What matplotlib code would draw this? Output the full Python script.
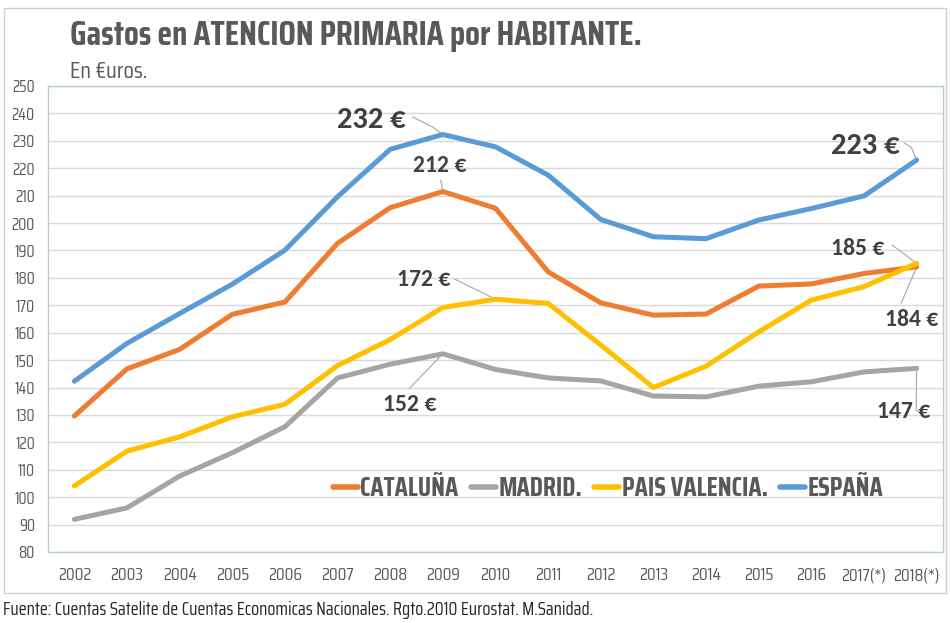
import matplotlib
matplotlib.use("Agg")
import matplotlib.pyplot as plt
from matplotlib.patches import Rectangle
from matplotlib.lines import Line2D

years = ["2002", "2003", "2004", "2005", "2006", "2007", "2008", "2009", "2010",
         "2011", "2012", "2013", "2014", "2015", "2016", "2017(*)", "2018(*)"]
cataluna = [129.6, 146.8, 153.9, 166.7, 171.2, 192.6, 205.6, 211.5, 205.4,
            182.2, 170.9, 166.4, 166.8, 177.0, 177.8, 181.6, 184.0]
madrid = [91.9, 96.1, 107.7, 116.2, 125.7, 143.5, 148.5, 152.3, 146.6,
          143.5, 142.4, 136.9, 136.6, 140.5, 142.1, 145.7, 147.0]
pais_valencia = [104.1, 116.8, 122.0, 129.3, 133.9, 148.0, 157.5, 169.2, 172.2,
                 170.7, 155.5, 140.0, 147.8, 160.3, 171.9, 176.8, 185.3]
espana = [142.3, 156.1, 167.0, 177.7, 190.1, 209.6, 226.9, 232.3, 227.8,
          217.5, 201.3, 195.0, 194.3, 201.1, 205.3, 209.9, 223.0]
series_names = ["CATALUÑA", "MADRID.", "PAIS VALENCIA.", "ESPAÑA"]
series_colors = ["#ED7D31", "#A5A5A5", "#FFC000", "#5B9BD5"]
yticks = list(range(80, 251, 10))

COND = ["Saira Condensed", "Saira ExtraCondensed", "DejaVu Sans"]
LBL = ["Carlito", "DejaVu Sans"]
TXT = "#595959"

fig = plt.figure(figsize=(9.5, 6.23), dpi=100)
fig.patch.set_facecolor("white")

# chart area border
fig.add_artist(Rectangle((4 / 950, 1 - 593 / 623), 942 / 950, 585 / 623,
                         transform=fig.transFigure, fill=False,
                         edgecolor="#d0d0d0", lw=1.0))

AX_L, AX_W = 48, 895
AX_T, AX_H = 86, 466
ax = fig.add_axes([AX_L / 950, 1 - (AX_T + AX_H) / 623, AX_W / 950, AX_H / 623])
x = list(range(len(years)))
for vals, name, col in zip([cataluna, madrid, pais_valencia, espana], series_names, series_colors):
    ax.plot(x, vals, color=col, lw=3.6, solid_capstyle="round", solid_joinstyle="round",
            label=name, zorder=3)

ax.set_xlim(-0.5, len(years) - 0.5)
ax.set_ylim(80, 250)
ax.set_yticks(yticks)
ax.set_xticks(x)
ax.set_xticklabels(years)
ax.grid(axis="y", color="#d9d9d9", lw=1.0, zorder=0)
ax.tick_params(length=0)
ax.tick_params(axis="y", pad=9.5)
ax.tick_params(axis="x", pad=11)
for lab in ax.get_yticklabels():
    lab.set_family(COND)
    lab.set_color(TXT)
    lab.set_fontsize(12)
for lab in ax.get_xticklabels():
    lab.set_family(COND)
    lab.set_color(TXT)
    lab.set_fontsize(13)
for s in ax.spines.values():
    s.set_color("#b7ccd6")
    s.set_linewidth(1.0)

# legend
handles = [Line2D([0], [0], color=c, lw=4, solid_capstyle="round") for c in series_colors]
leg = ax.legend(handles, series_names, loc="center",
                bbox_to_anchor=((608 - AX_L) / AX_W, 1 - (489 - AX_T) / AX_H),
                ncol=4, frameon=False, handlelength=0.95, handletextpad=0.1,
                columnspacing=0.45, prop={"family": COND, "size": 19, "weight": "bold"})
for t in leg.get_texts():
    t.set_color(TXT)

# data labels with leader lines
def px2d(px, py):
    return ((px - 74.3) / 52.7, 250 - (py - 86) / 2.74)

labels = [
    ("232 €", (372, 120), 22, [(413, 117), (433, 127)], espana, 7),
    ("223 €", (866, 146), 22, [(905, 143), (912, 147)], espana, 16),
    ("212 €", (440, 165), 17, [(441, 180)], cataluna, 7),
    ("172 €", (424, 279), 17, [(455, 279)], pais_valencia, 8),
    ("152 €", (410, 404), 17, [(410, 388)], madrid, 7),
    ("185 €", (858, 248), 17, [(893, 245)], pais_valencia, 16),
    ("184 €", (912, 319), 17, [(902, 303)], cataluna, 16),
    ("147 €", (904, 411), 17, [(922, 413), (917, 410)], madrid, 16),
]
for text, (lx, ly), size, path, ser, idx in labels:
    tx, ty = px2d(lx, ly)
    ax.text(tx, ty, text, ha="center", va="center", fontsize=size, fontweight="bold",
            family=LBL, color="#404040", zorder=5)
    xs = [px2d(*p)[0] for p in path] + [x[idx]]
    ys = [px2d(*p)[1] for p in path] + [ser[idx]]
    ax.plot(xs, ys, color="#a6a6a6", lw=0.8, zorder=2)

# titles
fig.text(70 / 950, 1 - 36 / 623, "Gastos en ATENCION PRIMARIA por HABITANTE.", ha="left", va="center",
         fontsize=24.5, fontweight="bold", family=COND, color=TXT)
fig.text(70 / 950, 1 - 72 / 623, "En €uros.", ha="left", va="center",
         fontsize=17, family=COND, color=TXT)
fig.text(3 / 950, 1 - 610 / 623,
         "Fuente: Cuentas Satelite de Cuentas Economicas Nacionales. Rgto.2010 Eurostat. M.Sanidad.",
         ha="left", va="center", fontsize=13.2, family=COND, color="#262626")

fig.savefig("out.png", dpi=100)
